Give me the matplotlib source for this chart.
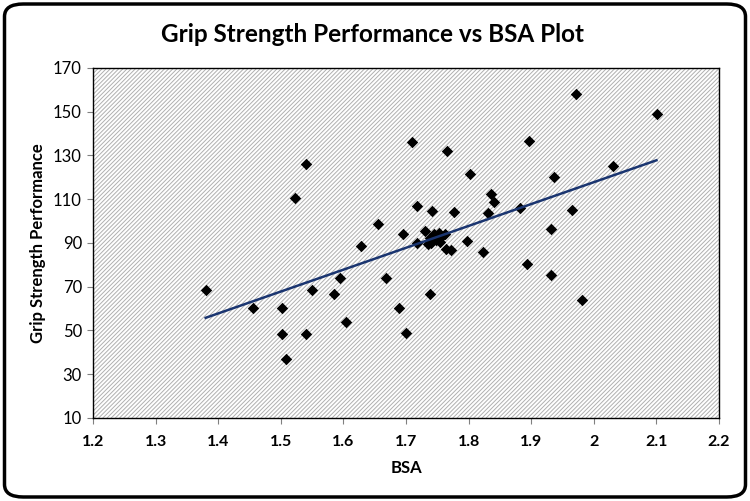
import matplotlib
matplotlib.use("Agg")
import matplotlib.pyplot as plt
from matplotlib.patches import FancyBboxPatch, Rectangle

plt.rcParams["font.family"] = ["Lato", "DejaVu Sans"]
plt.rcParams["hatch.linewidth"] = 0.7

# values
bsa = [1.380, 1.456, 1.502, 1.502, 1.509, 1.540, 1.523, 1.541, 1.550, 1.585,
       1.595, 1.604, 1.628, 1.656, 1.668, 1.689, 1.695, 1.700, 1.709, 1.717,
       1.742, 1.765, 1.777, 1.803, 1.836, 1.840, 1.831, 1.882, 1.897, 1.937,
       1.965, 1.972, 2.031, 2.101, 1.931, 1.894, 1.931, 1.981, 1.798, 1.823,
       1.738, 1.718, 1.730, 1.738, 1.745, 1.752, 1.748, 1.758, 1.740, 1.755,
       1.762, 1.764, 1.772, 1.735]
grip = [68.5, 60.2, 60.4, 48.3, 37.0, 48.3, 110.4, 126.1, 68.5, 66.8,
        74.1, 53.7, 88.8, 98.7, 74.2, 60.1, 94.1, 48.9, 136.0, 106.9,
        104.5, 132.1, 104.2, 121.7, 112.6, 108.8, 103.6, 106.1, 136.6, 120.2,
        105.1, 158.3, 125.2, 149.0, 96.6, 80.4, 75.2, 64.0, 90.8, 85.8,
        66.9, 89.8, 95.4, 92.5, 94.0, 94.4, 91.5, 93.0, 90.0, 90.5,
        94.0, 87.3, 86.6, 89.5]

# linear trend line as drawn in the reference
trend_x = [1.38, 2.10]
trend_y = [55.8, 127.8]

x_ticks = [1.2, 1.3, 1.4, 1.5, 1.6, 1.7, 1.8, 1.9, 2.0, 2.1, 2.2]
x_tick_labels = ["1.2", "1.3", "1.4", "1.5", "1.6", "1.7", "1.8", "1.9", "2", "2.1", "2.2"]
y_ticks = [10, 30, 50, 70, 90, 110, 130, 150, 170]

fig = plt.figure(figsize=(7.5, 5.01), dpi=100)
fig.patch.set_facecolor("white")

frame = FancyBboxPatch((0.006, 0.008), 0.988, 0.984,
                       boxstyle="round,pad=0,rounding_size=0.025",
                       transform=fig.transFigure, facecolor="white",
                       edgecolor="black", linewidth=2.5, zorder=-10)
fig.add_artist(frame)

ax = fig.add_axes([0.124, 0.1657, 0.8347, 0.6986])
ax.set_facecolor("white")
ax.add_patch(Rectangle((0, 0), 1, 1, transform=ax.transAxes, facecolor="white",
                       edgecolor="#b0b0b0", hatch="////////", linewidth=0, zorder=0))

ax.scatter(bsa, grip, marker="D", s=34, color="black", zorder=3, linewidths=0)
ax.plot(trend_x, trend_y, color="#1a3570", linewidth=1.8, zorder=4)

ax.set_xlim(1.2, 2.2)
ax.set_ylim(10, 170)
ax.set_xticks(x_ticks)
ax.set_xticklabels(x_tick_labels, fontweight="bold", fontsize=11.5)
ax.set_yticks(y_ticks)
ax.tick_params(axis="y", labelsize=12, length=4, color="#808080", pad=4)
ax.tick_params(axis="x", length=4, color="#808080", pad=8)
for spine in ax.spines.values():
    spine.set_color("black")
    spine.set_linewidth(1.0)

ax.set_xlabel("BSA", fontsize=12, fontweight="bold", labelpad=8)
ax.set_ylabel("Grip Strength Performance", fontsize=12, fontweight="bold", labelpad=5)

fig.text(0.497, 0.932, "Grip Strength Performance vs BSA Plot", ha="center", va="center",
         fontsize=17.5, fontweight="bold")

fig.savefig("out.png", dpi=100, facecolor="white")
